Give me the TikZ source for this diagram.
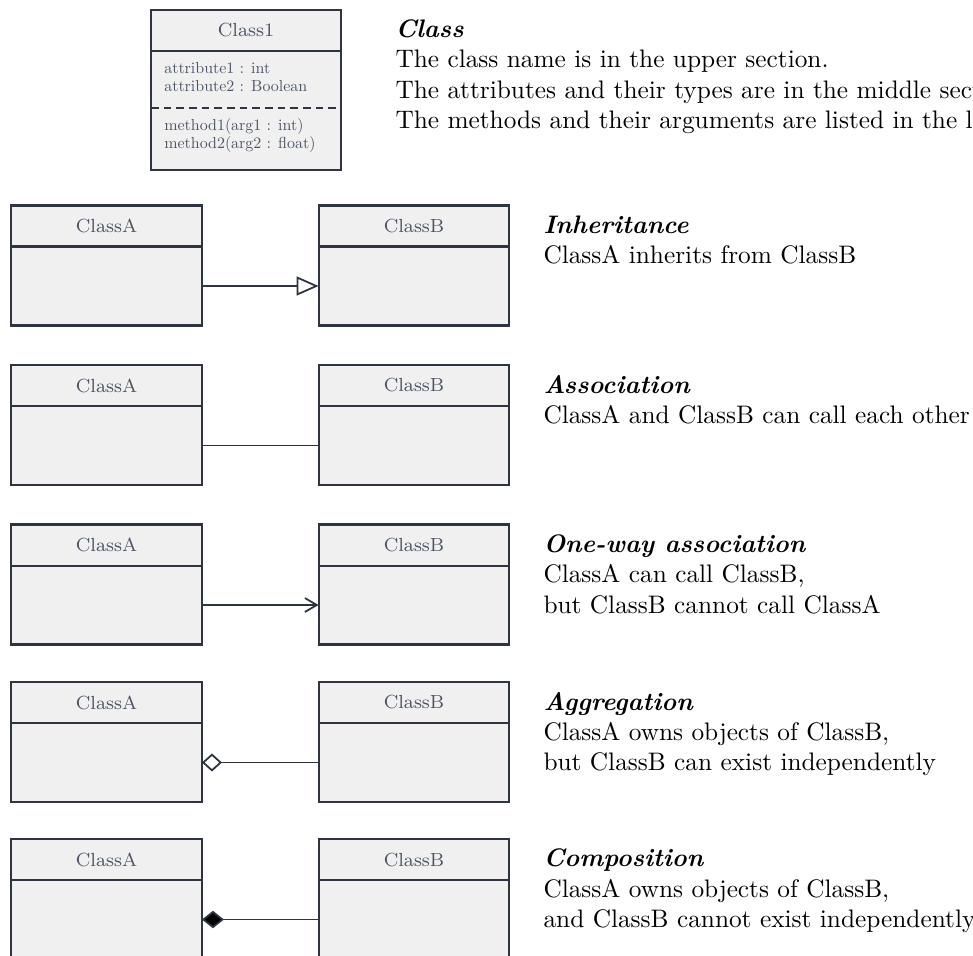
\documentclass[tikz,border=0pt]{standalone}
\usepackage{tikz}
\usepackage{xcolor}
\usetikzlibrary{arrows.meta,positioning}

\definecolor{umlline}{HTML}{2E3440}
\definecolor{umlfill}{HTML}{F0F0F0}
\definecolor{umltext}{HTML}{4C5566}

\begin{document}
\begin{tikzpicture}[x=0.395pt, y=-0.395pt,
    box/.style={draw=umlline, fill=umlfill, line width=0.8pt, inner sep=0pt, outer sep=0pt,
      minimum width=75.4pt, text=umltext, font=\fontsize{7.5}{9}\selectfont},
    head/.style={box, minimum height=16.2pt},
    body/.style={box, minimum height=31.2pt},
    member/.style={anchor=north west, align=left, inner sep=0pt, text=umltext,
      font=\fontsize{10}{11.6}\selectfont, scale=0.63, transform shape},
    link/.style={umlline, line width=0.7pt},
    desc/.style={anchor=north west, align=left, inner sep=0pt}]
  \useasboundingbox (0,0) rectangle (973,955);

  % class with its three sections
  \node[head, minimum width=75pt] (cls) at (246,30.5) {Class1};
  \node[box, minimum width=75pt, minimum height=47pt, below=0pt of cls] (clsBody) {};
  \node[member] (attrs) at (164,62) {attribute1 : int\\attribute2 : Boolean};
  \node[member] (meths) at (164,118) {method1(arg1 : int)\\method2(arg2 : float)};
  \coordinate (split) at (246,108);
  \draw[umlline, line width=0.8pt, dash pattern=on 3pt off 2pt] (clsBody.west |- split) -- (clsBody.east |- split);
  \node[desc] (clsTxt) at (395,19) {\textbf{\textit{Class}}\\
    The class name is in the upper section.\\
    The attributes and their types are in the middle section.\\
    The methods and their arguments are listed in the lower section.};

  % inheritance
  \node[head] (inhA) at (106.5,226) {ClassA};
  \node[body, below=0pt of inhA] (inhA2) {};
  \node[head] (inhB) at (414,226) {ClassB};
  \node[body, below=0pt of inhB] (inhB2) {};
  \draw[link, -{Triangle[open, length=8.7pt, width=7.5pt]}] (inhA2.east) -- (inhB2.west);
  \node[desc] (inhTxt) at (543,215) {\textbf{\textit{Inheritance}}\\ClassA inherits from ClassB};

  % association
  \node[head] (ascA) at (106.5,385.5) {ClassA};
  \node[body, below=0pt of ascA] (ascA2) {};
  \node[head] (ascB) at (414,385.5) {ClassB};
  \node[body, below=0pt of ascB] (ascB2) {};
  \draw[link] (ascA2.east) -- (ascB2.west);
  \node[desc] (ascTxt) at (543,374.5) {\textbf{\textit{Association}}\\ClassA and ClassB can call each other};

  % one-way association
  \node[head] (oneA) at (106.5,545) {ClassA};
  \node[body, below=0pt of oneA] (oneA2) {};
  \node[head] (oneB) at (414,545) {ClassB};
  \node[body, below=0pt of oneB] (oneB2) {};
  \draw[link, -{Straight Barb[length=4.7pt, width=5.5pt]}] (oneA2.east) -- (oneB2.west);
  \node[desc] (oneTxt) at (543,534) {\textbf{\textit{One-way association}}\\ClassA can call ClassB,\\
    but ClassB cannot call ClassA};

  % aggregation
  \node[head] (aggA) at (106.5,702.5) {ClassA};
  \node[body, below=0pt of aggA] (aggA2) {};
  \node[head] (aggB) at (414,702.5) {ClassB};
  \node[body, below=0pt of aggB] (aggB2) {};
  \draw[link, -{Diamond[open, length=7.9pt, width=7.1pt]}] (aggB2.west) -- (aggA2.east);
  \node[desc] (aggTxt) at (543,691.5) {\textbf{\textit{Aggregation}}\\ClassA owns objects of ClassB,\\
    but ClassB can exist independently};

  % composition
  \node[head] (cmpA) at (106.5,859.5) {ClassA};
  \node[body, below=0pt of cmpA] (cmpA2) {};
  \node[head] (cmpB) at (414,859.5) {ClassB};
  \node[body, below=0pt of cmpB] (cmpB2) {};
  \draw[link, -{Diamond[length=8.7pt, width=6.9pt, fill=black]}] (cmpB2.west) -- (cmpA2.east);
  \node[desc] (cmpTxt) at (543,848.5) {\textbf{\textit{Composition}}\\ClassA owns objects of ClassB,\\
    and ClassB cannot exist independently};
\end{tikzpicture}
\end{document}
